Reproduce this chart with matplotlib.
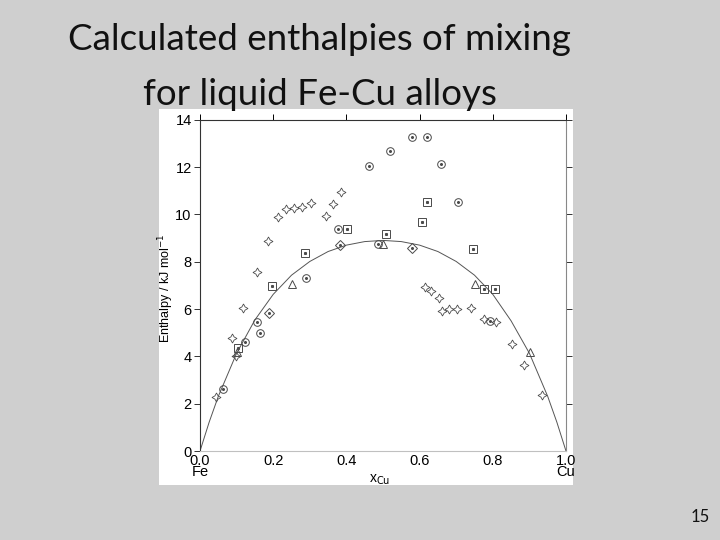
import matplotlib.pyplot as plt
from matplotlib.patches import Rectangle

# calculated curve
curve_x = [0.0, 0.025, 0.05, 0.1, 0.15, 0.2, 0.25, 0.3, 0.35, 0.4, 0.45, 0.5,
           0.55, 0.6, 0.65, 0.7, 0.75, 0.8, 0.85, 0.9, 0.95, 0.975, 1.0]
curve_y = [0.0, 1.22, 2.31, 4.13, 5.54, 6.62, 7.43, 8.01, 8.43, 8.70, 8.85, 8.90,
           8.85, 8.70, 8.43, 8.01, 7.43, 6.62, 5.50, 4.13, 2.31, 1.22, 0.0]

# experimental points, grouped by marker
star_x = [0.044, 0.087, 0.097, 0.118, 0.155, 0.185, 0.212, 0.234, 0.258, 0.278,
          0.303, 0.343, 0.364, 0.385, 0.615, 0.632, 0.653, 0.660, 0.679, 0.703,
          0.741, 0.777, 0.810, 0.853, 0.886, 0.935]
star_y = [2.30, 4.77, 4.02, 6.03, 7.55, 8.89, 9.88, 10.22, 10.26, 10.32,
          10.47, 9.94, 10.44, 10.94, 6.92, 6.78, 6.48, 5.93, 6.00, 6.00,
          6.05, 5.56, 5.44, 4.52, 3.64, 2.37]

circ_x = [0.062, 0.123, 0.155, 0.165, 0.290, 0.377, 0.463, 0.487, 0.519, 0.578,
          0.619, 0.658, 0.706, 0.792]
circ_y = [2.61, 4.61, 5.44, 4.98, 7.30, 9.38, 12.05, 8.76, 12.68, 13.28,
          13.29, 12.13, 10.54, 5.48]

sq_x = [0.105, 0.198, 0.288, 0.402, 0.509, 0.606, 0.619, 0.745, 0.777, 0.807]
sq_y = [4.35, 6.98, 8.37, 9.39, 9.16, 9.67, 10.54, 8.54, 6.84, 6.84]

tri_x = [0.101, 0.252, 0.501, 0.751, 0.902]
tri_y = [4.17, 7.06, 8.76, 7.06, 4.17]

dia_x = [0.189, 0.383, 0.580]
dia_y = [5.84, 8.71, 8.57]

x_ticks = [0.0, 0.2, 0.4, 0.6, 0.8, 1.0]
x_labels = ['0.0\nFe', '0.2', '0.4', '0.6', '0.8', '1.0\nCu']
y_ticks = [0, 2, 4, 6, 8, 10, 12, 14]

fig = plt.figure(figsize=(7.2, 5.4), dpi=100)
fig.patch.set_facecolor('#cfcfcf')

# white box holding the chart
fig.patches.append(Rectangle((0.2215, 0.1019), 0.5743, 0.6963,
                             transform=fig.transFigure, facecolor='white',
                             edgecolor='none', zorder=-5))

fig.text(0.444, 0.907, 'Calculated enthalpies of mixing', ha='center',
         va='baseline', fontsize=26.5, family='Lato', color='#111111')
fig.text(0.444, 0.806, 'for liquid Fe-Cu alloys', ha='center',
         va='baseline', fontsize=26.5, family='Lato', color='#111111')
fig.text(0.973, 0.033, '15', ha='center', va='baseline', fontsize=12,
         family='Lato', color='#111111')

ax = fig.add_axes([0.2778, 0.1648, 0.5083, 0.6135])
ax.set_zorder(2)
ax.set_facecolor('white')
ax.plot(curve_x, curve_y, color='#555555', lw=0.7)

mc = '#4a4a4a'
ax.plot(star_x, star_y, ls='none', marker=(4, 1, 0), ms=6.5, mfc='none', mec=mc, mew=0.6)
ax.plot(circ_x, circ_y, ls='none', marker='o', ms=5.5, mfc='none', mec=mc, mew=0.7)
ax.plot(circ_x, circ_y, ls='none', marker='o', ms=1.2, color=mc)
ax.plot(sq_x, sq_y, ls='none', marker='s', ms=5.2, mfc='none', mec=mc, mew=0.7)
ax.plot(sq_x, sq_y, ls='none', marker='s', ms=1.2, color=mc)
ax.plot(tri_x, tri_y, ls='none', marker='^', ms=6, mfc='none', mec=mc, mew=0.7)
ax.plot(dia_x, dia_y, ls='none', marker='D', ms=5, mfc='none', mec=mc, mew=0.7)
ax.plot(dia_x, dia_y, ls='none', marker='o', ms=1.2, color=mc)

ax.set_xlim(0, 1)
ax.set_ylim(0, 14)
ax.set_xticks(x_ticks)
ax.set_xticklabels(x_labels, family='Liberation Sans', fontsize=10.5, linespacing=0.75)
ax.set_yticks(y_ticks)
ax.set_yticklabels([str(v) for v in y_ticks], family='Liberation Sans', fontsize=10.5)
ax.tick_params(axis='y', direction='out', length=4, width=0.7, color='#333333',
               right=True, pad=2)
ax.tick_params(axis='x', direction='out', length=0, top=True, pad=2)
for t in ax.xaxis.get_major_ticks():
    t.tick2line.set_markersize(4)
    t.tick2line.set_markeredgewidth(0.7)
    t.tick2line.set_color('#333333')
ax.yaxis.get_major_ticks()[0].tick2line.set_visible(False)

ax.spines['left'].set_color('#333333')
ax.spines['top'].set_color('#333333')
ax.spines['right'].set_color('#888888')
ax.spines['bottom'].set_color('#c0c0c0')
for s in ax.spines.values():
    s.set_linewidth(0.8)

ax.set_ylabel('Enthalpy / kJ mol$^{-1}$', family='Liberation Sans', fontsize=9)
ax.yaxis.set_label_coords(-0.066, 0.49)
ax.set_xlabel('x$_{\\mathrm{Cu}}$', family='Liberation Sans', fontsize=10)
ax.xaxis.set_label_coords(0.49, -0.065)

fig.savefig('out.png', dpi=100, facecolor=fig.get_facecolor())
